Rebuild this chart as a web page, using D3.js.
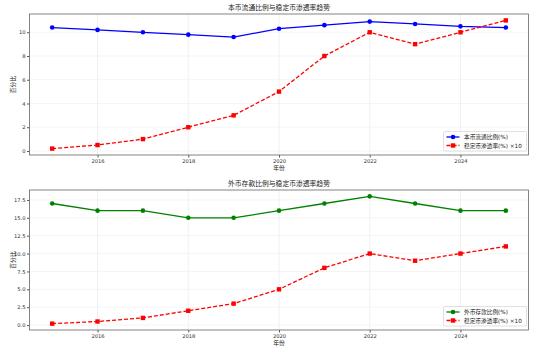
<!DOCTYPE html>
<html>
<head>
<meta charset="utf-8">
<script src="https://cdn.jsdelivr.net/npm/d3@7"></script>
<style>
  body { margin: 0; background: #fff; }
  svg { display: block; font-family: "DejaVu Sans", "Noto Sans CJK SC", sans-serif; }
</style>
</head>
<body>
<div id="chart"></div>
<script>
// data
var years = [2015, 2016, 2017, 2018, 2019, 2020, 2021, 2022, 2023, 2024, 2025];
var localCurrency = [10.4, 10.2, 10.0, 9.8, 9.6, 10.3, 10.6, 10.9, 10.7, 10.5, 10.4];
var foreignDeposit = [17, 16, 16, 15, 15, 16, 17, 18, 17, 16, 16];
var stablecoinX10 = [0.2, 0.5, 1.0, 2.0, 3.0, 5.0, 8.0, 10.0, 9.0, 10.0, 11.0];
var xTicks = [2016, 2018, 2020, 2022, 2024];
var topTicks = [0, 2, 4, 6, 8, 10];
var bottomTicks = [0, 2.5, 5, 7.5, 10, 12.5, 15, 17.5];

var W = 533, H = 354;
var svg = d3.select('#chart').append('svg').attr('width', W).attr('height', H);

function panel(cfg) {
    var left = 29.5, right = 528.5;
    var x = d3.scaleLinear().domain([2014.5, 2025.5]).range([left, right]);
    var y = d3.scaleLinear().domain(cfg.ydomain).range([cfg.bottom, cfg.top]);
    var g = svg.append('g');

    // grid
    g.selectAll('.gx').data(xTicks).join('line')
        .attr('x1', d => x(d)).attr('x2', d => x(d))
        .attr('y1', cfg.top).attr('y2', cfg.bottom)
        .attr('stroke', '#e6e6e6').attr('stroke-width', 0.6);
    g.selectAll('.gy').data(cfg.yticks).join('line')
        .attr('x1', left).attr('x2', right)
        .attr('y1', d => y(d)).attr('y2', d => y(d))
        .attr('stroke', '#eeeeee').attr('stroke-width', 0.6);

    // axes
    var xAxis = g.append('g').attr('transform', `translate(0,${cfg.bottom})`)
        .call(d3.axisBottom(x).tickValues(xTicks).tickFormat(d3.format('d')).tickSize(2.5).tickPadding(1.5));
    var yAxis = g.append('g').attr('transform', `translate(${left},0)`)
        .call(d3.axisLeft(y).tickValues(cfg.yticks).tickFormat(cfg.fmt).tickSize(2.5).tickPadding(1.5));
    [xAxis, yAxis].forEach(a => {
        a.select('.domain').remove();
        a.selectAll('line').attr('stroke', '#555');
        a.selectAll('text').attr('fill', '#333').attr('font-size', 5.2).attr('font-family', 'DejaVu Sans');
    });

    g.append('rect').attr('x', left).attr('y', cfg.top)
        .attr('width', right - left).attr('height', cfg.bottom - cfg.top)
        .attr('fill', 'none').attr('stroke', '#777').attr('stroke-width', 0.9);

    // lines
    var line = d3.line().x((d, i) => x(years[i])).y(d => y(d));
    g.append('path').datum(cfg.series).attr('d', line)
        .attr('fill', 'none').attr('stroke', cfg.color).attr('stroke-width', 1.3);
    g.selectAll('.dot').data(cfg.series).join('circle')
        .attr('cx', (d, i) => x(years[i])).attr('cy', d => y(d)).attr('r', 2.3)
        .attr('fill', cfg.color);
    g.append('path').datum(stablecoinX10).attr('d', line)
        .attr('fill', 'none').attr('stroke', 'red').attr('stroke-width', 1.3)
        .attr('stroke-dasharray', '4,2');
    g.selectAll('.sq').data(stablecoinX10).join('rect')
        .attr('x', (d, i) => x(years[i]) - 2.2).attr('y', d => y(d) - 2.2)
        .attr('width', 4.4).attr('height', 4.4).attr('fill', 'red');

    // title and labels
    g.append('text').attr('x', (left + right) / 2).attr('y', cfg.top - 4)
        .attr('text-anchor', 'middle').attr('font-size', 6.8).attr('fill', '#222').text(cfg.title);
    g.append('text').attr('x', (left + right) / 2).attr('y', cfg.bottom + 14.5)
        .attr('text-anchor', 'middle').attr('font-size', 5.8).attr('fill', '#222').text('年份');
    g.append('text').attr('transform', `translate(15,${(cfg.top + cfg.bottom) / 2}) rotate(-90)`)
        .attr('text-anchor', 'middle').attr('font-size', 5.8).attr('fill', '#222').text('百分比');

    // legend
    var lx = 443.5, ly = cfg.bottom - 23.5;
    var lg = g.append('g').attr('transform', `translate(${lx},${ly})`);
    lg.append('rect').attr('width', 83).attr('height', 19.5).attr('rx', 1.5)
        .attr('fill', 'white').attr('fill-opacity', 0.85).attr('stroke', '#ccc').attr('stroke-width', 0.6);
    var items = [
        { label: cfg.label, color: cfg.color, dash: null, shape: 'circle' },
        { label: '稳定币渗透率(%) ×10', color: 'red', dash: '4,2', shape: 'square' }
    ];
    items.forEach((it, i) => {
        var yy = 5.5 + i * 8.5;
        lg.append('line').attr('x1', 3).attr('x2', 16).attr('y1', yy).attr('y2', yy)
            .attr('stroke', it.color).attr('stroke-width', 1.3).attr('stroke-dasharray', it.dash);
        if (it.shape === 'circle') {
            lg.append('circle').attr('cx', 9.5).attr('cy', yy).attr('r', 2.3).attr('fill', it.color);
        } else {
            lg.append('rect').attr('x', 7.3).attr('y', yy - 2.2).attr('width', 4.4).attr('height', 4.4).attr('fill', it.color);
        }
        lg.append('text').attr('x', 20.5).attr('y', yy + 2).attr('font-size', 5.7)
            .attr('fill', '#222').text(it.label);
    });
}

panel({
    top: 14, bottom: 155, ydomain: [-0.34, 11.54], yticks: topTicks, fmt: d3.format('d'),
    series: localCurrency, color: 'blue', label: '本币流通比例(%)', title: '本币流通比例与稳定币渗透率趋势'
});
panel({
    top: 190, bottom: 330, ydomain: [-0.69, 18.89], yticks: bottomTicks, fmt: d3.format('.1f'),
    series: foreignDeposit, color: 'green', label: '外币存款比例(%)', title: '外币存款比例与稳定币渗透率趋势'
});
</script>
</body>
</html>
